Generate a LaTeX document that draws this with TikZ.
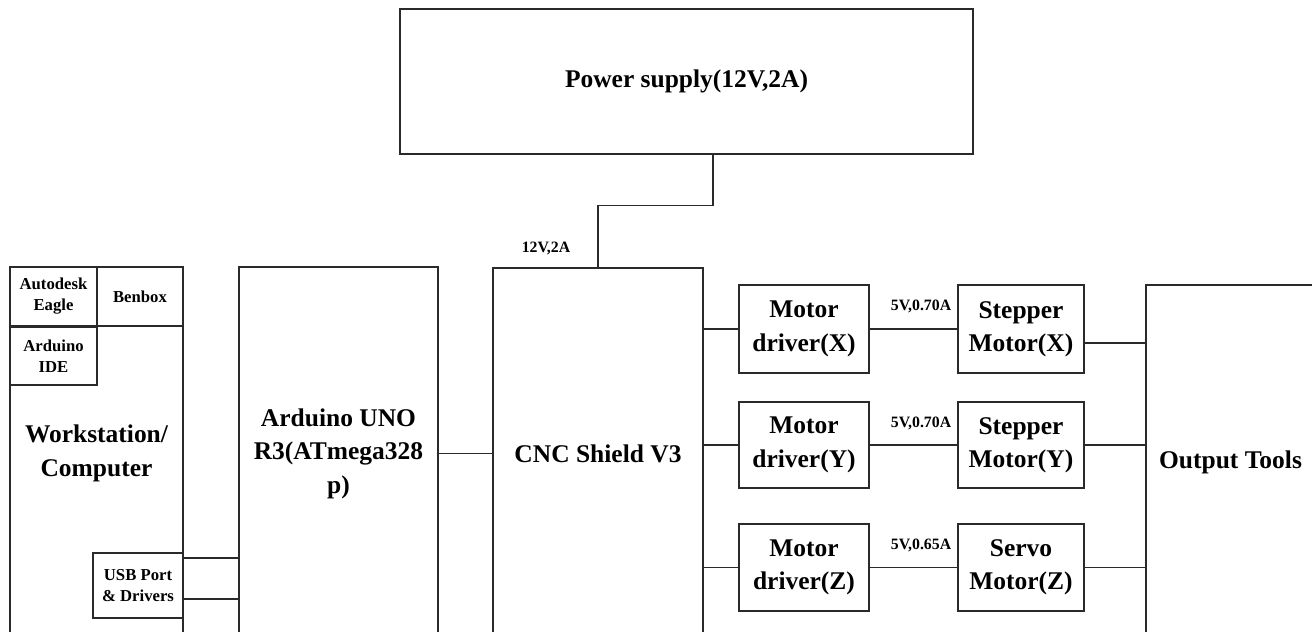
\documentclass[tikz,border=0pt]{standalone}
\usepackage{fontspec}
\setmainfont{Liberation Serif}
\usetikzlibrary{positioning, calc}
\definecolor{inkgray}{HTML}{2A2A2A}

\begin{document}
\begin{tikzpicture}[x=0.02cm, y=-0.02cm,
  box/.style={draw=inkgray, line width=0.8pt, align=center, inner sep=0pt,
    font=\fontsize{14.5}{19}\selectfont\bfseries},
  smallbox/.style={box, font=\fontsize{9.5}{12}\selectfont\bfseries},
  lbl/.style={inner sep=0pt, font=\fontsize{9}{11}\selectfont\bfseries},
  wire/.style={draw=inkgray, line width=0.8pt}]
  \useasboundingbox (0,0) rectangle (1312,632);
  \clip (0,0) rectangle (1312,632);

  % Power supply
  \node[box, minimum width=11.46cm, minimum height=2.9cm] (ps) at (686.5,81.5) {Power supply(12V,2A)};

  % Workstation with its software boxes
  \node[box, minimum width=3.46cm, minimum height=7.46cm] (ws) at (96.5,453.5) {Workstation/\\Computer};
  \node[smallbox, minimum width=1.74cm, minimum height=1.18cm] (eagle) at (53.5,296.5) {Autodesk\\Eagle};
  \node[smallbox, minimum width=1.72cm, minimum height=1.18cm] (benbox) at (140,296.5) {Benbox};
  \node[smallbox, minimum width=1.74cm, minimum height=1.16cm] (ide) at (53.5,356) {Arduino\\IDE};
  \node[smallbox, minimum width=1.8cm, minimum height=1.3cm] (usb) at (138,585.5) {USB Port\\\& Drivers};

  % Controller boards
  \node[box, minimum width=3.98cm, minimum height=7.46cm] (uno) at (338.5,453.5) {Arduino UNO\\R3(ATmega328\\p)};
  \node[box, minimum width=4.2cm, minimum height=7.44cm] (cnc) at (598,454) {CNC Shield V3};

  % Motor drivers
  \node[box, minimum width=2.6cm, minimum height=1.76cm] (dx) at (804,329) {Motor\\driver(X)};
  \node[box, minimum width=2.6cm, minimum height=1.72cm] (dy) at (804,445) {Motor\\driver(Y)};
  \node[box, minimum width=2.6cm, minimum height=1.74cm] (dz) at (804,567.5) {Motor\\driver(Z)};

  % Motors
  \node[box, minimum width=2.52cm, minimum height=1.76cm] (sx) at (1021,329) {Stepper\\Motor(X)};
  \node[box, minimum width=2.52cm, minimum height=1.72cm] (sy) at (1021,445) {Stepper\\Motor(Y)};
  \node[box, minimum width=2.52cm, minimum height=1.74cm] (sz) at (1021,567.5) {Servo\\Motor(Z)};

  % Output
  \node[box, minimum width=3.38cm, minimum height=7.1cm] (out) at (1230.5,462.5) {Output Tools};

  % Labels
  \node[lbl] (vin) at (546,248) {12V,2A};
  \node[lbl] (vx) at (921,306) {5V,0.70A};
  \node[lbl] (vy) at (921,423) {5V,0.70A};
  \node[lbl] (vz) at (921,545) {5V,0.65A};

  % Power line
  \draw[wire] ([xshift=0.53cm]ps.south) -- ++(0,51) -| (cnc.north);

  % USB and board links
  \draw[wire] ([yshift=0.55cm]usb.east) -- ([yshift=0.55cm]usb.east -| uno.west);
  \draw[wire] ([yshift=-0.27cm]usb.east) -- ([yshift=-0.27cm]usb.east -| uno.west);
  \draw[wire] (uno.east) -- (uno.east -| cnc.west);

  % Shield to drivers to motors
  \draw[wire] (dx.west -| cnc.east) -- (dx.west);
  \draw[wire] (dy.west -| cnc.east) -- (dy.west);
  \draw[wire] (dz.west -| cnc.east) -- (dz.west);
  \draw[wire] (dx.east) -- (sx.west);
  \draw[wire] (dy.east) -- (sy.west);
  \draw[wire] (dz.east) -- (sz.west);

  % Motors to output
  \draw[wire] ([yshift=-0.28cm]sx.east) -- ([yshift=-0.28cm]sx.east -| out.west);
  \draw[wire] (sy.east) -- (sy.east -| out.west);
  \draw[wire] (sz.east) -- (sz.east -| out.west);
\end{tikzpicture}
\end{document}
